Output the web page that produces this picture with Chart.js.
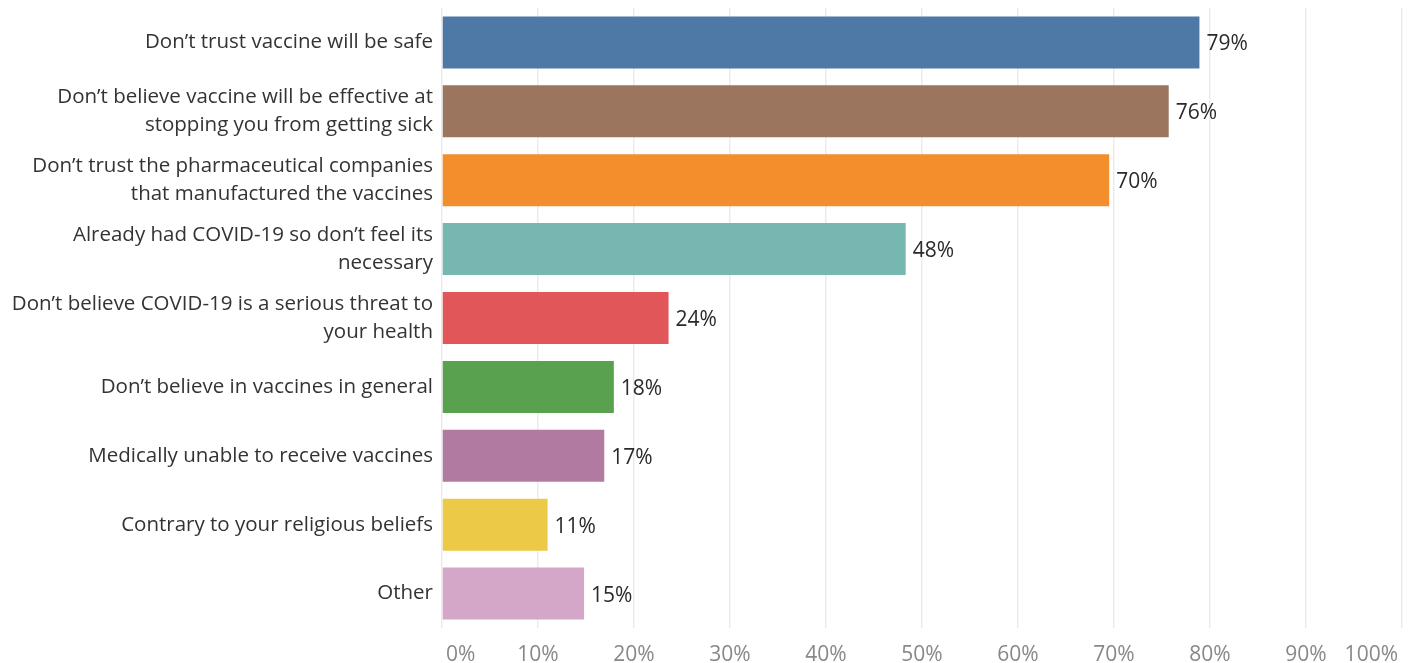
<!DOCTYPE html>
<html>
<head>
<meta charset="utf-8">
<script src="https://cdn.jsdelivr.net/npm/chart.js@4.4.1/dist/chart.umd.min.js"></script>
<style>
  html, body { margin: 0; padding: 0; background: #fff; }
  #wrap { width: 1411px; height: 663px; position: relative; }
</style>
</head>
<body>
<div id="wrap"><canvas id="barChart"></canvas></div>
<script>
const categories = [
    ["Don\u2019t trust vaccine will be safe"],
    ["Don\u2019t believe vaccine will be effective at", "stopping you from getting sick"],
    ["Don\u2019t trust the pharmaceutical companies", "that manufactured the vaccines"],
    ["Already had COVID-19 so don\u2019t feel its", "necessary"],
    ["Don\u2019t believe COVID-19 is a serious threat to", "your health"],
    ["Don\u2019t believe in vaccines in general"],
    ["Medically unable to receive vaccines"],
    ["Contrary to your religious beliefs"],
    ["Other"]
];
const values = [78.9, 75.7, 69.5, 48.3, 23.6, 17.9, 16.9, 11.0, 14.8];
const valueLabels = ["79%", "76%", "70%", "48%", "24%", "18%", "17%", "11%", "15%"];
const barColors = ['#4e79a7', '#9c755f', '#f28e2b', '#76b7b2', '#e15759', '#59a14f', '#b07aa1', '#edc948', '#d4a6c8'];
const xTicks = [0, 10, 20, 30, 40, 50, 60, 70, 80, 90, 100];

const FONT = "'Open Sans', sans-serif";

// value labels at bar ends + x tick labels kept inside the canvas
const labelPlugin = {
    id: 'labels',
    afterDatasetsDraw(chart) {
        const ctx = chart.ctx;
        const meta = chart.getDatasetMeta(0);
        ctx.save();
        ctx.font = '21px ' + FONT;
        ctx.fillStyle = '#2a2a2a';
        ctx.textBaseline = 'middle';
        ctx.textAlign = 'left';
        meta.data.forEach((bar, i) => {
            ctx.fillText(valueLabels[i], bar.x + 7, bar.y + 2);
        });

        const xs = chart.scales.x;
        ctx.fillStyle = '#888';
        ctx.textAlign = 'center';
        xTicks.forEach(t => {
            const txt = t + '%';
            const w = ctx.measureText(txt).width;
            let cx = xs.getPixelForValue(t);
            cx = Math.max(cx, xs.left + 4 + w / 2);
            cx = Math.min(cx, xs.right - 4 - w / 2);
            ctx.fillText(txt, cx, chart.chartArea.bottom + 27);
        });
        ctx.restore();
    }
};

new Chart(document.getElementById('barChart'), {
    type: 'bar',
    data: {
        labels: categories,
        datasets: [{
            data: values,
            backgroundColor: barColors,
            barPercentage: 0.755,
            categoryPercentage: 1.0
        }]
    },
    options: {
        indexAxis: 'y',
        responsive: true,
        maintainAspectRatio: false,
        animation: false,
        layout: { padding: { top: 8, right: 9, left: 0, bottom: 0 } },
        plugins: { legend: { display: false }, tooltip: { enabled: false } },
        scales: {
            x: {
                min: 0,
                max: 100,
                afterBuildTicks(scale) { scale.ticks = xTicks.map(v => ({ value: v })); },
                afterFit(scale) { scale.height = 35; scale.paddingLeft = 0; scale.paddingRight = 0; },
                ticks: { display: false },
                grid: { color: '#ebebeb', lineWidth: 1.5, drawTicks: false },
                border: { display: false }
            },
            y: {
                afterFit(scale) { scale.width = 442; scale.paddingTop = 0; scale.paddingBottom = 0; },
                ticks: {
                    color: '#333',
                    padding: 9,
                    font: { family: FONT, size: 20.5, lineHeight: 1.37 }
                },
                grid: { display: false, drawTicks: false },
                border: { display: false }
            }
        }
    },
    plugins: [labelPlugin]
});
</script>
</body>
</html>
